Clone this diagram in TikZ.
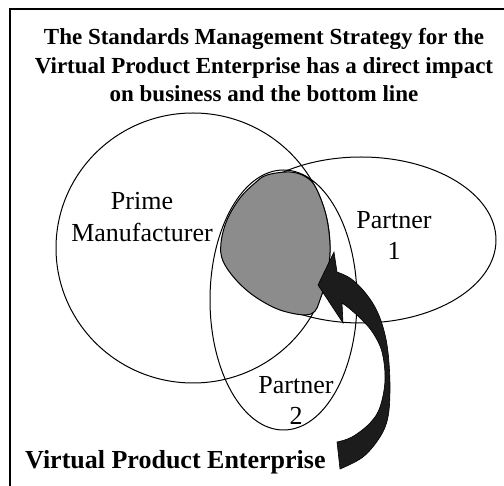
\documentclass[tikz,border=0pt]{standalone}
\usepackage{fontspec}
\setmainfont{Liberation Serif}
\definecolor{blobgray}{RGB}{140,140,140}
\definecolor{arrowdark}{RGB}{28,28,28}
\tikzset{
  setline/.style={draw=black, line width=1pt},
  titletext/.style={font=\fontsize{23}{28}\selectfont\bfseries, inner sep=0pt, anchor=base},
  labeltext/.style={font=\fontsize{26}{31}\selectfont, inner sep=0pt, anchor=base},
  bigtext/.style={font=\fontsize{26}{31}\selectfont\bfseries, inner sep=0pt, anchor=base west},
}
\begin{document}
\begin{tikzpicture}[x=1pt, y=-1pt]
\useasboundingbox (0,0) rectangle (504,486);
% frame (top and left edges visible)
\coordinate (fbl) at (10,486);
\coordinate (ftl) at (10,9);
\coordinate (ftr) at (504,9);
\draw[line width=1.2pt] (fbl) -- (ftl) -- (ftr);
% sets
\draw[setline] (193,248) ellipse [x radius=137, y radius=135];
\draw[setline] (361,240) ellipse [x radius=135, y radius=83];
\draw[setline] (283.5,300) ellipse [x radius=73.5, y radius=130];
% overlap region
\draw[setline, fill=blobgray] plot[smooth cycle, tension=0.6] coordinates {
  (267,175) (290,172) (306,177) (316,188) (326,215) (330,245) (328,270)
  (321,297) (311,314) (283,311) (257,298) (237,281) (223,261) (221,243)
  (227,220) (240,198) (255,183)};
% curved arrow
\draw[black, line width=0.6pt, fill=arrowdark, line join=miter]
  (318,285) -- (334,252) -- (337,272)
  -- plot[smooth, tension=0.6] coordinates {(337,272) (350,278) (363,290) (375,307) (383,327) (388,352) (390,387) (388,417) (380,437) (363,457) (340,469)}
  -- (337,442)
  -- plot[smooth, tension=0.6] coordinates {(337,442) (352,437) (370,423) (380,407) (385,380) (382,352) (373,333) (362,320) (350,309) (342,303)}
  -- (343,323) -- cycle;
% title
\node[titletext] (t1) at (264,45) {The Standards Management Strategy for the};
\node[titletext] (t2) at (264,73.3) {Virtual Product Enterprise has a direct impact};
\node[titletext] (t3) at (264,101.7) {on business and the bottom line};
% labels
\node[labeltext] (pm1) at (142,210) {Prime};
\node[labeltext] (pm2) at (142,241.7) {Manufacturer};
\node[labeltext] (p11) at (394,228.3) {Partner};
\node[labeltext] (p12) at (394,260) {1};
\node[labeltext] (p21) at (296,393.3) {Partner};
\node[labeltext] (p22) at (296,425) {2};
\node[bigtext] (vpe) at (25,468.3) {Virtual Product Enterprise};
\end{tikzpicture}
\end{document}
